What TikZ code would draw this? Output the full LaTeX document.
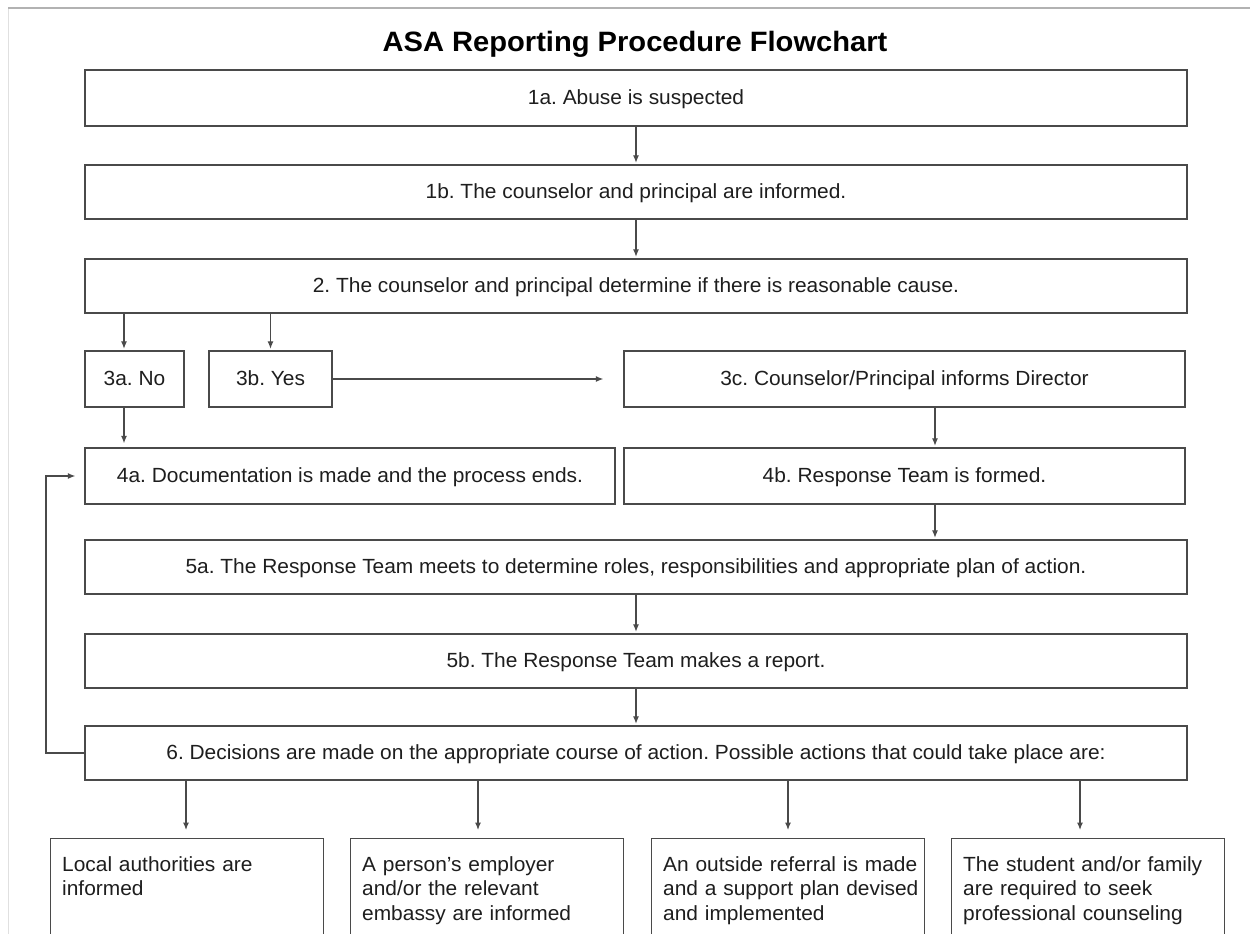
\documentclass[tikz,border=0pt]{standalone}
\usepackage{fontspec}
\usetikzlibrary{arrows.meta,calc}
\newfontfamily\bodyfont{Liberation Sans}[FakeStretch=1.02]
\newfontfamily\titlefont{Liberation Sans}[FakeStretch=1.04]
\definecolor{linec}{HTML}{4A4A4A}
\definecolor{textc}{HTML}{1E1E1E}
\frenchspacing
\begin{document}
\begin{tikzpicture}[x=1pt,y=-1pt,
  box/.style={draw=linec, line width=1.3pt, rectangle, inner sep=0pt, anchor=center,
    text height=14.8pt, text depth=2pt,
    text=textc, font=\frenchspacing\bodyfont\fontsize{20.5}{24.5}\selectfont},
  optbox/.style={draw=linec, line width=1.4pt, rectangle, inner sep=0pt, anchor=north west,
    minimum width=273pt, minimum height=130pt},
  opttext/.style={anchor=north west, inner sep=0pt, text width=262pt, align=left,
    text=textc, font=\frenchspacing\bodyfont\fontsize{20.5}{24.5}\selectfont},
  arr/.style={draw=linec, line width=1.2pt, -{Latex[length=7.5pt,width=6pt]}, shorten >=1.5pt}]
\useasboundingbox (0,0) rectangle (1250,934);
\clip (0,0) rectangle (1250,934);
\fill[white] (0,0) rectangle (1250,934);
\draw[black!12, line width=1pt] (8,8) -- (8,934);
\draw[black!30, line width=2.5pt] (8,8) -- (1250,8);

\node[anchor=base, text=black, font=\titlefont\bfseries\fontsize{28}{32}\selectfont] (title) at (635,52) {ASA Reporting Procedure Flowchart};

\node[box, minimum width=1102pt, minimum height=56pt] (b1a) at (636,98) {1a. Abuse is suspected};
\node[box, minimum width=1102pt, minimum height=54pt] (b1b) at (636,192) {1b. The counselor and principal are informed.};
\node[box, minimum width=1102pt, minimum height=54pt] (b2) at (636,286) {2. The counselor and principal determine if there is reasonable cause.};
\node[box, minimum width=99pt, minimum height=56pt] (b3a) at (134.5,379) {3a. No};
\node[box, minimum width=123pt, minimum height=56pt] (b3b) at (270.5,379) {3b. Yes};
\node[box, minimum width=561pt, minimum height=56pt] (b3c) at (904.5,379) {3c. Counselor/Principal informs Director};
\node[box, minimum width=530pt, minimum height=56pt] (b4a) at (350,476) {4a. Documentation is made and the process ends.};
\node[box, minimum width=561pt, minimum height=56pt] (b4b) at (904.5,476) {4b. Response Team is formed.};
\node[box, minimum width=1102pt, minimum height=54pt] (b5a) at (636,567) {5a. The Response Team meets to determine roles, responsibilities and appropriate plan of action.};
\node[box, minimum width=1102pt, minimum height=54pt] (b5b) at (636,661) {5b. The Response Team makes a report.};
\node[box, minimum width=1102pt, minimum height=54pt] (b6) at (636,753) {6. Decisions are made on the appropriate course of action. Possible actions that could take place are:};

\node[optbox] (o1) at (50,838) {};
\node[optbox] (o2) at (350,838) {};
\node[optbox] (o3) at (651,838) {};
\node[optbox] (o4) at (951,838) {};
\node[opttext] (t1) at (62,856) {Local authorities are\\informed};
\node[opttext] (t2) at (362,856) {A person’s employer\\and/or the relevant\\embassy are informed};
\node[opttext] (t3) at (663,856) {An outside referral is made\\and a support plan devised\\and implemented};
\node[opttext] (t4) at (963,856) {The student and/or family\\are required to seek\\professional counseling};

\coordinate (xa) at (124,0);
\coordinate (xc) at (935,0);
\coordinate (x1) at (186,0);
\coordinate (x2) at (478,0);
\coordinate (x3) at (788,0);
\coordinate (x4) at (1080,0);
\coordinate (fbx) at (46,0);

\draw[arr] (b1a.south) -- (b1b.north);
\draw[arr] (b1b.south) -- (b2.north);
\draw[arr] (b2.south -| xa) -- (b3a.north -| xa);
\draw[arr] (b2.south -| b3b.north) -- (b3b.north);
\draw[arr, shorten >=20pt] (b3b.east) -- (b3c.west);
\draw[arr, shorten >=4pt] (b3a.south -| xa) -- (b4a.north -| xa);
\draw[arr] (b3c.south -| xc) -- (b4b.north -| xc);
\draw[arr] (b4b.south -| xc) -- (b5a.north -| xc);
\draw[arr] (b5a.south) -- (b5b.north);
\draw[arr] (b5b.south) -- (b6.north);
\draw[arr, shorten >=8pt] (b6.south -| x1) -- (o1.north -| x1);
\draw[arr, shorten >=8pt] (b6.south -| x2) -- (o2.north -| x2);
\draw[arr, shorten >=8pt] (b6.south -| x3) -- (o3.north -| x3);
\draw[arr, shorten >=8pt] (b6.south -| x4) -- (o4.north -| x4);
\draw[arr, shorten >=9pt] (b6.west) -- (b6.west -| fbx) -- (b4a.west -| fbx) -- (b4a.west);
\end{tikzpicture}
\end{document}
